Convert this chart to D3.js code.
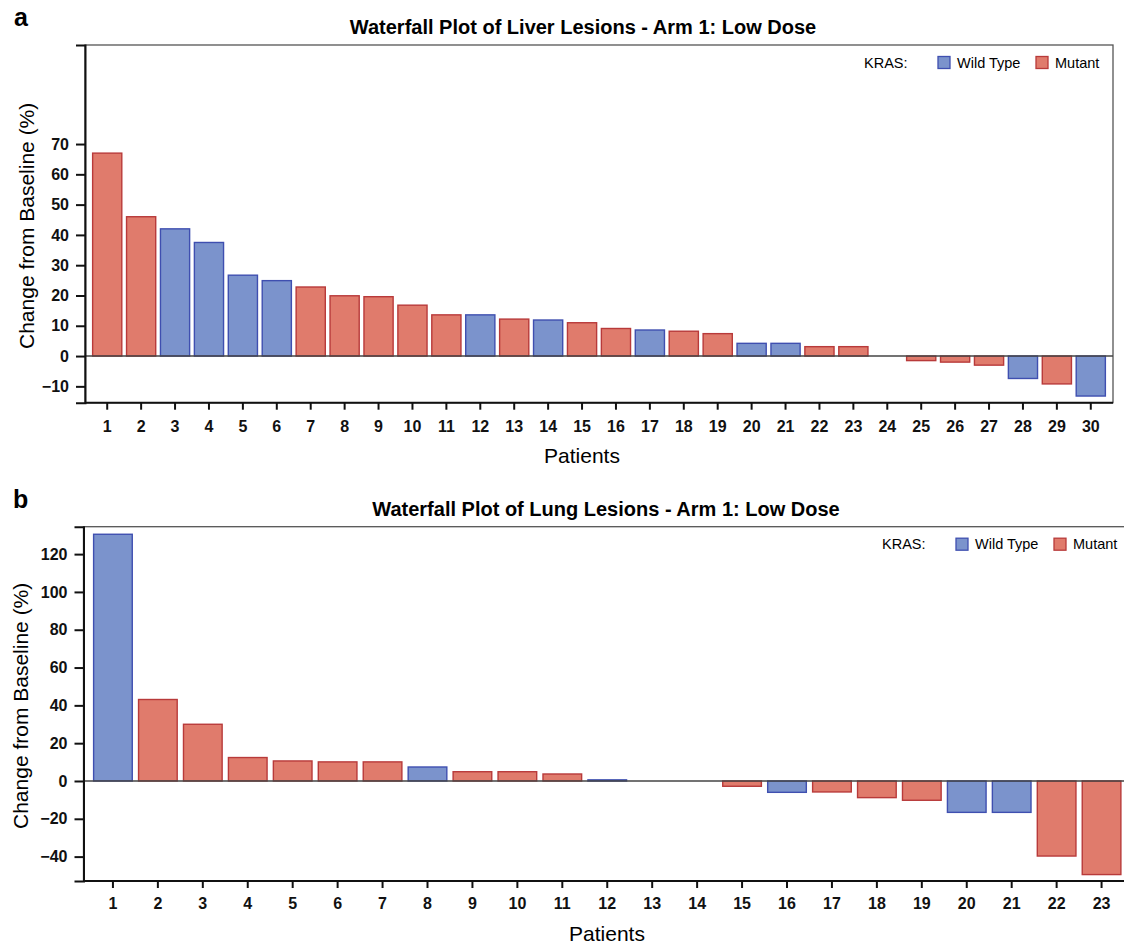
<!DOCTYPE html>
<html>
<head>
<meta charset="utf-8">
<script src="https://cdn.jsdelivr.net/npm/d3@7"></script>
<style>
  body { margin: 0; background: #fff; }
  svg { display: block; font-family: "Liberation Sans", Arial, sans-serif; }
</style>
</head>
<body>
<svg id="chart" width="1124" height="943"></svg>
<script>
// panel a - liver lesions
var liverPatients = ["1","2","3","4","5","6","7","8","9","10","11","12","13","14","15",
  "16","17","18","19","20","21","22","23","24","25","26","27","28","29","30"];
var liverChange = [67, 46, 42, 37.5, 26.7, 24.9, 22.8, 19.9, 19.6, 16.8, 13.6, 13.6, 12.2, 11.9, 11.0,
  9.1, 8.6, 8.2, 7.4, 4.2, 4.2, 3.1, 3.1, 0, -1.5, -2.0, -3.0, -7.4, -9.2, -13.2];
var liverKras = ["Mutant","Mutant","Wild Type","Wild Type","Wild Type","Wild Type","Mutant","Mutant",
  "Mutant","Mutant","Mutant","Wild Type","Mutant","Wild Type","Mutant","Mutant","Wild Type","Mutant",
  "Mutant","Wild Type","Wild Type","Mutant","Mutant","Mutant","Mutant","Mutant","Mutant","Wild Type",
  "Mutant","Wild Type"];
var liverTicks = [-10, 0, 10, 20, 30, 40, 50, 60, 70];

// panel b - lung lesions
var lungPatients = ["1","2","3","4","5","6","7","8","9","10","11","12","13","14","15",
  "16","17","18","19","20","21","22","23"];
var lungChange = [130.5, 43.1, 30.0, 12.4, 10.6, 10.1, 10.1, 7.4, 4.9, 4.9, 3.7, 0.6, 0, 0,
  -2.8, -6.0, -5.8, -8.8, -10.2, -16.6, -16.6, -39.7, -49.5];
var lungKras = ["Wild Type","Mutant","Mutant","Mutant","Mutant","Mutant","Mutant","Wild Type",
  "Mutant","Mutant","Mutant","Wild Type","Mutant","Mutant","Mutant","Wild Type","Mutant","Mutant",
  "Mutant","Wild Type","Wild Type","Mutant","Mutant"];
var lungTicks = [-40, -20, 0, 20, 40, 60, 80, 100, 120];

var krasGroups = ["Wild Type", "Mutant"];
var fill = d3.scaleOrdinal().domain(krasGroups).range(["#7b93cc", "#e07b6c"]);
var edge = d3.scaleOrdinal().domain(krasGroups).range(["#3f4fb0", "#b83a3a"]);

var svg = d3.select("#chart");

var drawPanel = function(p) {
  var g = svg.append("g");

  var x = d3.scaleBand().domain(p.patients).range([p.left, p.right])
    .paddingInner(0.14).paddingOuter(0.225);
  var y = d3.scaleLinear().domain(p.domain).range([p.bottom, p.top]);

  var rows = p.patients.map(function(d, i) {
    return { patient: d, change: p.change[i], kras: p.kras[i] };
  });

  // frame
  g.append("rect")
    .attr("x", p.left).attr("y", p.top)
    .attr("width", p.right - p.left).attr("height", p.bottom - p.top)
    .attr("fill", "none").attr("stroke", "#555").attr("stroke-width", 1.3);

  // bars
  g.selectAll("rect.bar")
    .data(rows)
    .enter()
    .append("rect")
      .attr("class", "bar")
      .attr("x", function(d) { return x(d.patient); })
      .attr("width", x.bandwidth())
      .attr("y", function(d) { return y(Math.max(0, d.change)); })
      .attr("height", function(d) { return Math.abs(y(d.change) - y(0)); })
      .attr("fill", function(d) { return fill(d.kras); })
      .attr("stroke", function(d) { return d.change === 0 ? "none" : edge(d.kras); })
      .attr("stroke-width", 1.4);

  // zero reference line
  g.append("line")
    .attr("x1", p.left).attr("x2", p.right)
    .attr("y1", y(0)).attr("y2", y(0))
    .attr("stroke", "#444").attr("stroke-width", 1.5);

  var yAxis = g.append("g")
    .attr("transform", "translate(" + p.left + ",0)")
    .call(d3.axisLeft(y).tickValues(p.ticks).tickSize(9).tickPadding(7));
  var xAxis = g.append("g")
    .attr("transform", "translate(0," + p.bottom + ")")
    .call(d3.axisBottom(x).tickSize(7).tickPadding(p.xPad));

  [yAxis, xAxis].forEach(function(a) {
    a.select(".domain").attr("stroke", "#111").attr("stroke-width", 2);
    a.selectAll(".tick line").attr("stroke", "#111").attr("stroke-width", 2);
    a.selectAll(".tick text")
      .attr("fill", "#111")
      .style("font-size", "16px")
      .style("font-weight", "bold");
  });
  xAxis.select(".domain").attr("d", "M" + p.left + ",0H" + p.right);

  // titles
  g.append("text")
    .attr("x", p.titleX).attr("y", p.titleY)
    .attr("text-anchor", "middle")
    .style("font-size", "20px").style("font-weight", "bold")
    .text(p.title);

  g.append("text")
    .attr("x", p.tagX).attr("y", p.tagY)
    .style("font-size", "25px").style("font-weight", "bold")
    .text(p.tag);

  g.append("text")
    .attr("transform", "translate(" + p.yLabelX + "," + ((p.top + p.bottom) / 2 + 2) + ") rotate(-90)")
    .attr("text-anchor", "middle")
    .attr("dominant-baseline", "central")
    .style("font-size", "21px")
    .text("Change from Baseline (%)");

  g.append("text")
    .attr("x", p.xLabelX).attr("y", p.xLabelY)
    .attr("text-anchor", "middle")
    .attr("dominant-baseline", "central")
    .style("font-size", "21px")
    .text("Patients");

  // legend
  var ly = p.top + 17.5;
  var legend = g.append("g").attr("transform", "translate(" + p.right + "," + ly + ")");
  legend.append("text")
    .attr("x", -249).attr("dominant-baseline", "central")
    .style("font-size", "14.5px")
    .text("KRAS:");
  var items = legend.selectAll("g.item")
    .data(krasGroups)
    .enter()
    .append("g")
      .attr("class", "item")
      .attr("transform", function(d, i) { return "translate(" + (i === 0 ? -175 : -77) + ",0)"; });
  items.append("rect")
    .attr("x", 0).attr("y", -6).attr("width", 12).attr("height", 12)
    .attr("fill", function(d) { return fill(d); })
    .attr("stroke", function(d) { return edge(d); })
    .attr("stroke-width", 1.3);
  items.append("text")
    .attr("x", 19).attr("dominant-baseline", "central")
    .style("font-size", "14.5px")
    .text(function(d) { return d; });
};

drawPanel({
  tag: "a", tagX: 14, tagY: 26,
  title: "Waterfall Plot of Liver Lesions - Arm 1: Low Dose", titleX: 583, titleY: 34,
  patients: liverPatients, change: liverChange, kras: liverKras, ticks: liverTicks,
  domain: [-15.4, 102.7],
  left: 85, right: 1113, top: 45, bottom: 402.7,
  xPad: 11, yLabelX: 26, xLabelX: 582, xLabelY: 455
});

drawPanel({
  tag: "b", tagX: 13, tagY: 508,
  title: "Waterfall Plot of Lung Lesions - Arm 1: Low Dose", titleX: 606, titleY: 516,
  patients: lungPatients, change: lungChange, kras: lungKras, ticks: lungTicks,
  domain: [-52.9, 134.5],
  left: 83.5, right: 1131, top: 526.7, bottom: 881,
  xPad: 10, yLabelX: 20, xLabelX: 607, xLabelY: 933
});
</script>
</body>
</html>
